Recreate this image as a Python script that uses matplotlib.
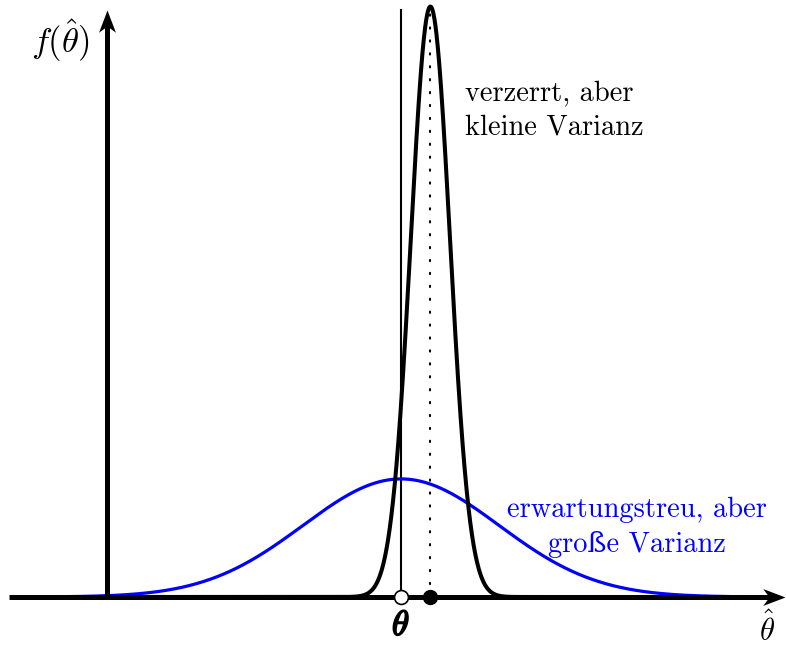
import numpy as np
import matplotlib
matplotlib.use("Agg")
import matplotlib.pyplot as plt
from matplotlib.path import Path
import matplotlib.patheffects as pe

plt.rcParams['mathtext.fontset'] = 'cm'

# Data (theta at 0, units of the blue std dev)
theta = 0.0
mu_biased = 0.3
sigma_unbiased = 1.0
sigma_biased = 0.2
x_range = (-3.5, 3.5)
label_biased = "verzerrt, aber\nkleine Varianz"
label_unbiased = "erwartungstreu, aber\ngroße Varianz"

def normal_pdf(x, mu, s):
    return np.exp(-0.5 * ((x - mu) / s) ** 2) / (s * np.sqrt(2 * np.pi))

W, H = 786, 648
fig = plt.figure(figsize=(W / 100, H / 100), dpi=100)
ax = fig.add_axes([0, 0, 1, 1])
px_x, px_y = 98.0, 296.0
ax.set_xlim((0 - 401) / px_x, (W - 401) / px_x)
ax.set_ylim(-(H - 597) / px_y, 597 / px_y)
ax.axis('off')

x = np.linspace(*x_range, 2000)
y_unb = normal_pdf(x, theta, sigma_unbiased)
y_b = normal_pdf(x, mu_biased, sigma_biased)

ax.plot(x, y_unb, color='#0000ff', lw=2.3, zorder=3)
ax.plot(x, y_b, color='black', lw=2.9, zorder=4)

peak_b = normal_pdf(mu_biased, mu_biased, sigma_biased)
# vertical line at theta
ax.plot([theta, theta], [0, peak_b - 0.01], color='black', lw=1.5, zorder=2)
# dotted line at biased mean
ax.plot([mu_biased, mu_biased], [0, peak_b], color='black', lw=1.5,
        dashes=(0.6, 5.6), dash_capstyle='round', zorder=2)

# axes with stealth arrow heads
x_tip = (785 - 401) / px_x
y_tip = 587 / px_y
ax_lw = 3.6
ax.plot([-4.0, x_tip - 0.15], [0, 0], color='black', lw=ax_lw, zorder=5, solid_capstyle='butt')
ax.plot([-3.0, -3.0], [0, y_tip - 0.05], color='black', lw=ax_lw, zorder=5, solid_capstyle='butt')

def stealth(angle):
    v = np.array([(0, 0), (-1, 0.38), (-0.72, 0), (-1, -0.38), (0, 0)])
    c, s = np.cos(np.radians(angle)), np.sin(np.radians(angle))
    R = np.array([[c, -s], [s, c]])
    return Path(v @ R.T, [Path.MOVETO, Path.LINETO, Path.LINETO, Path.LINETO, Path.CLOSEPOLY])

ax.plot([x_tip], [0], marker=stealth(0), ms=32, color='black', mew=0, zorder=6)
ax.plot([-3.0], [y_tip], marker=stealth(90), ms=32, color='black', mew=0, zorder=6)

# points
ax.plot([theta], [0], 'o', ms=10, mfc='white', mec='black', mew=1.2, zorder=7)
ax.plot([mu_biased], [0], 'o', ms=10, mfc='black', mec='black', zorder=7)

# labels
ax.text(theta, -(625 - 597) / px_y, r'$\theta$', ha='center', va='center', fontsize=25,
        path_effects=[pe.withStroke(linewidth=1.3, foreground='black')])
ax.text(-3.48, 1.88, r'$f(\hat{\theta})$', ha='center', va='center', fontsize=25)
ax.text((767 - 401) / px_x, -(641 - 597) / px_y, r'$\hat{\theta}$', ha='center', va='baseline',
        fontsize=22)

ax.text((465 - 401) / px_x, (597 - 80) / px_y, label_biased, ha='left', va='top',
        fontsize=20.5, family=['cmr10', 'DejaVu Serif'], linespacing=1.38)
ax.text((637 - 401) / px_x, (597 - 497) / px_y, label_unbiased, ha='center', va='top',
        fontsize=20.5, family=['cmr10', 'DejaVu Serif'], color='#0000ff',
        linespacing=1.38, multialignment='center')

fig.savefig('out.png', dpi=100)
